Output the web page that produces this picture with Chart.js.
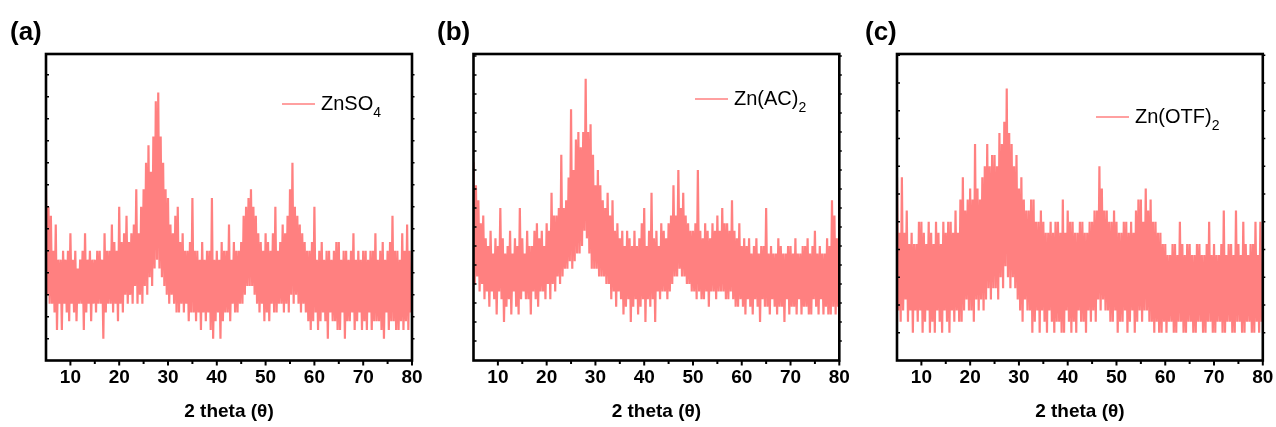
<!DOCTYPE html>
<html>
<head>
<meta charset="utf-8">
<script src="https://cdn.jsdelivr.net/npm/chart.js@4.4.0/dist/chart.umd.min.js"></script>
<style>
  body { margin: 0; background: #fff; width: 1276px; height: 427px; position: relative; overflow: hidden; }
  .panel { position: absolute; top: 0; height: 427px; }
</style>
</head>
<body>
<div class="panel" style="left:0px;width:427px"><canvas id="chartA"></canvas></div>
<div class="panel" style="left:430px;width:426px"><canvas id="chartB"></canvas></div>
<div class="panel" style="left:856px;width:420px"><canvas id="chartC"></canvas></div>
<script>
// XRD scans, 2 theta from 5 to 80 deg, one reading every 0.25 deg (counts)
const thetaStart = 5
const thetaStep = 0.25

const znso4Counts = [
  19,7,17,6, 16,6,12,5, 15,3,11,6, 11,3,12,6, 11,5,12,4,
  14,6,11,5, 12,4,10,6, 11,6,12,3, 14,5,11,6, 12,4,11,6,
  11,5,12,6, 12,6,11,2, 14,5,12,6, 12,6,15,5, 13,6,12,4,
  17,6,13,5, 14,7,16,6, 13,7,14,6, 15,8,19,6, 14,7,17,6,
  19,8,22,7, 24,9,21,8, 25,10,29,11, 30,10,25,9, 22,8,19,7,
  18,6,15,7, 14,6,16,5, 17,5,13,6, 14,5,12,6, 12,4,13,5,
  18,5,12,4, 12,5,11,3, 13,5,11,4, 12,5,12,3, 18,2,11,4,
  12,5,11,2, 13,4,12,5, 12,5,15,4, 11,6,13,5, 12,5,12,6,
  13,6,16,7, 17,8,18,8, 19,8,17,7, 16,6,14,5, 13,6,12,4,
  14,5,13,4, 12,6,14,5, 17,5,12,6, 13,6,15,5, 14,6,16,5,
  19,7,22,6, 17,7,16,6, 15,5,14,6, 13,5,12,4, 12,3,13,4,
  17,5,11,3, 12,4,13,5, 11,4,12,2, 12,5,11,4, 12,4,13,3,
  13,3,11,5, 12,2,12,4, 11,4,12,5, 14,3,11,4, 12,5,11,3,
  12,4,12,3, 11,5,12,3, 12,4,14,4, 11,4,12,3, 13,2,11,5,
  12,3,13,4, 16,4,12,3, 12,3,11,4, 14,3,12,4, 15,3,12,5,
  9
]

const znAcCounts = [
  26,10,23,11, 21,9,18,10, 19,8,16,9, 15,7,17,9, 14,8,16,6,
  15,9,20,8, 16,5,14,7, 15,8,17,6, 14,9,16,7, 15,6,20,8,
  16,9,14,8, 17,8,15,6, 15,9,17,8, 18,7,16,9, 17,9,15,8,
  18,10,17,8, 22,10,19,9, 19,11,20,10, 27,11,20,12, 21,12,24,13,
  33,12,25,13, 29,14,30,14, 28,15,30,17, 37,16,30,14, 31,12,27,12,
  23,12,25,11, 23,11,21,11, 20,10,22,10, 19,8,21,9, 17,7,18,9,
  16,8,17,6, 15,7,17,8, 16,5,15,7, 17,8,15,6, 16,7,18,8,
  20,5,15,8, 17,7,22,8, 16,5,17,9, 15,8,18,9, 17,9,16,8,
  18,9,19,10, 23,11,19,11, 25,12,20,11, 22,11,19,10, 18,10,17,9,
  17,9,18,8, 25,9,17,8, 16,8,18,9, 17,7,16,9, 18,9,17,8,
  19,9,17,9, 20,9,18,8, 18,8,17,9, 21,8,17,7, 16,7,18,8,
  15,7,16,6, 15,8,16,7, 14,6,15,8, 16,7,14,5, 15,8,15,7,
  20,7,14,6, 15,8,14,7, 14,6,16,7, 15,7,14,5, 14,8,15,6,
  15,7,14,7, 16,6,14,8, 14,6,15,7, 15,7,16,6, 14,6,15,8,
  17,7,14,6, 15,8,14,6, 14,7,16,6, 15,6,21,7, 19,6,16,7,
  18
]

const znOtfCounts = [
  16,4,11,3, 16,4,11,5, 13,3,10,4, 11,2,10,4, 10,3,12,4,
  12,2,11,3, 10,4,12,2, 11,3,10,2, 12,4,11,3, 10,2,12,4,
  11,3,12,2, 12,4,11,3, 13,4,11,3, 14,3,16,4, 13,5,14,4,
  15,4,14,3, 19,5,15,4, 14,5,16,4, 17,5,19,6, 17,5,18,6,
  18,6,17,5, 20,7,19,6, 21,8,24,7, 20,6,19,7, 17,6,18,5,
  15,4,16,3, 14,5,13,4, 13,4,14,2, 14,3,12,4, 12,2,13,4,
  12,3,11,2, 11,4,12,3, 11,2,12,3, 12,3,11,2, 14,2,11,4,
  13,3,12,2, 12,3,11,2, 11,4,12,3, 12,3,11,2, 11,4,12,3,
  12,4,13,3, 13,5,17,4, 15,5,13,4, 13,4,12,3, 12,3,13,4,
  12,2,11,3, 11,3,12,4, 12,2,11,3, 12,4,11,2, 13,3,14,4,
  14,3,12,4, 15,4,13,3, 14,3,12,2, 12,3,11,2, 11,2,10,3,
  10,2,9,3, 9,3,10,2, 10,2,9,3, 12,3,10,2, 9,2,10,3,
  10,3,9,2, 9,2,10,3, 10,3,9,2, 9,2,10,3, 12,3,9,2,
  10,2,9,3, 9,3,10,2, 13,2,9,3, 10,3,10,2, 9,2,13,3,
  10,3,9,2, 12,2,10,3, 9,3,10,2, 10,2,12,3, 9,2,12,3,
  8
]

const xTickLabels = [10, 20, 30, 40, 50, 60, 70, 80]
const xTitle = "2 theta (θ)"
const panelLetters = ["(a)", "(b)", "(c)"]
const seriesNames = [["ZnSO", "4"], ["Zn(AC)", "2"], ["Zn(OTF)", "2"]]

const FONT = '"Liberation Sans", Arial, sans-serif'
const LINE_COLOR = "rgb(255, 128, 128)"

// frame, tick marks, panel letter and legend (legend needs a subscript)
const decorPlugin = {
  id: "decor",
  afterDraw(chart, args, opts) {
    const { ctx, chartArea: a, scales: { x, y } } = chart
    ctx.save()
    ctx.strokeStyle = "#000"
    ctx.lineWidth = 1.5
    for (let v = opts.yTickStart; v < y.max; v += 2.5) {
      const py = y.getPixelForValue(v)
      ctx.beginPath()
      ctx.moveTo(a.left, py); ctx.lineTo(a.left + 3, py)
      ctx.moveTo(a.right, py); ctx.lineTo(a.right + 2.5, py)
      ctx.stroke()
    }
    ctx.lineWidth = 2
    x.ticks.forEach(t => {
      if (t.value <= x.min) return
      const px = x.getPixelForValue(t.value)
      const len = xTickLabels.includes(t.value) ? 5 : 3.5
      ctx.beginPath()
      ctx.moveTo(px, a.bottom); ctx.lineTo(px, a.bottom + len)
      ctx.stroke()
    })
    ctx.lineWidth = 2.6
    ctx.strokeRect(a.left, a.top, a.right - a.left, a.bottom - a.top)

    ctx.fillStyle = "#000"
    ctx.textBaseline = "alphabetic"
    ctx.font = "bold 26px " + FONT
    ctx.fillText(opts.letter, opts.letterX, 40)

    const lg = opts.legend
    ctx.strokeStyle = chart.data.datasets[0].borderColor
    ctx.lineWidth = 1.5
    ctx.beginPath()
    ctx.moveTo(lg.x, lg.y); ctx.lineTo(lg.x + 33, lg.y)
    ctx.stroke()
    ctx.font = "20px " + FONT
    ctx.fillText(lg.name[0], lg.x + 39, lg.y + 5.5)
    const w = ctx.measureText(lg.name[0]).width
    ctx.font = "14px " + FONT
    ctx.fillText(lg.name[1], lg.x + 39 + w, lg.y + 12.5)
    ctx.restore()
  }
}

function makePanel(canvasId, counts, setup) {
  const points = counts.map((c, i) => ({ x: thetaStart + i * thetaStep, y: c }))
  new Chart(document.getElementById(canvasId), {
    type: "line",
    data: {
      datasets: [{
        label: setup.legend.name.join(""),
        data: points,
        borderColor: LINE_COLOR,
        borderWidth: 2.2,
        borderJoinStyle: "miter",
        pointRadius: 0,
        tension: 0,
      }],
    },
    options: {
      responsive: true,
      maintainAspectRatio: false,
      animation: false,
      layout: { padding: { left: setup.padLeft, right: setup.padRight, top: 54, bottom: 0 } },
      plugins: {
        legend: { display: false },
        tooltip: { enabled: false },
        decor: { letter: setup.letter, letterX: setup.letterX, legend: setup.legend, yTickStart: setup.yTickStart },
      },
      scales: {
        x: {
          type: "linear",
          min: 5,
          max: 80,
          grid: { display: false, drawTicks: false },
          border: { display: false },
          ticks: {
            stepSize: 5,
            autoSkip: false,
            maxRotation: 0,
            padding: 6,
            color: "#000",
            font: { family: FONT, size: 19, weight: "bold" },
            callback: v => (xTickLabels.includes(v) ? String(v) : ""),
          },
          title: {
            display: true,
            text: xTitle,
            color: "#000",
            font: { family: FONT, size: 19, weight: "bold" },
            padding: { top: 0, bottom: 4 },
          },
          afterFit: s => {
            s.height = 66.5
            s.paddingLeft = 0
            s.paddingRight = 0
          },
        },
        y: { display: false, min: setup.yMin, max: setup.yMax },
      },
    },
    plugins: [decorPlugin],
  })
}

makePanel("chartA", znso4Counts, {
  letter: panelLetters[0], letterX: 10, padLeft: 46, padRight: 15,
  yMin: -0.46, yMax: 34.37, yTickStart: 2,
  legend: { x: 282, y: 104, name: seriesNames[0] },
})
makePanel("chartB", znAcCounts, {
  letter: panelLetters[1], letterX: 7, padLeft: 43.5, padRight: 16.7,
  yMin: -0.07, yMax: 40.26, yTickStart: 2.5,
  legend: { x: 265, y: 99, name: seriesNames[1] },
})
makePanel("chartC", znOtfCounts, {
  letter: panelLetters[2], letterX: 9, padLeft: 41, padRight: 13.2,
  yMin: -0.5, yMax: 27.11, yTickStart: 2,
  legend: { x: 240, y: 117, name: seriesNames[2] },
})
</script>
</body>
</html>
